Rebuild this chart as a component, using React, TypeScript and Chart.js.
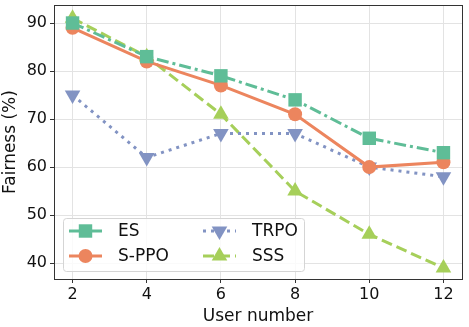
import React, { useEffect, useRef } from "react";
import { Chart, registerables } from "chart.js";

Chart.register(...registerables);

const userNumbers = [2, 4, 6, 8, 10, 12];
const esValues = [90, 83, 79, 74, 66, 63];
const sppoValues = [89, 82, 77, 71, 60, 61];
const trpoValues = [75, 62, 67, 67, 60, 58];
const sssValues = [91, 83, 71, 55, 46, 39];
const yTicks = [40, 50, 60, 70, 80, 90];
const xTicks = [2, 4, 6, 8, 10, 12];

const FONT = "'DejaVu Sans', sans-serif";

const seriesDefs = [
  { label: "ES", data: esValues, color: "#5fbd97", style: "rect", radius: 9.5, rotation: 0, dash: [12, 4, 3, 4] },
  { label: "S-PPO", data: sppoValues, color: "#ec855e", style: "circle", radius: 7, rotation: 0, dash: [] as number[] },
  { label: "TRPO", data: trpoValues, color: "#8293c3", style: "triangle", radius: 9, rotation: 180, dash: [3, 5] },
  { label: "SSS", data: sssValues, color: "#a6cf5a", style: "triangle", radius: 9, rotation: 0, dash: [11, 5] },
];

function drawMarker(ctx: CanvasRenderingContext2D, style: string, x: number, y: number, radius: number, rotation: number) {
  ctx.beginPath();
  if (style === "rect") {
    const s = Math.SQRT1_2 * radius;
    ctx.rect(x - s, y - s, 2 * s, 2 * s);
  } else if (style === "circle") {
    ctx.arc(x, y, radius, 0, Math.PI * 2);
  } else if (style === "triangle") {
    let a = (rotation * Math.PI) / 180;
    ctx.moveTo(x + Math.sin(a) * radius, y - Math.cos(a) * radius);
    a += (2 * Math.PI) / 3;
    ctx.lineTo(x + Math.sin(a) * radius, y - Math.cos(a) * radius);
    a += (2 * Math.PI) / 3;
    ctx.lineTo(x + Math.sin(a) * radius, y - Math.cos(a) * radius);
    ctx.closePath();
  }
  ctx.fill();
}

const frameAndLegend = {
  id: "frameAndLegend",
  afterDraw(chart: any) {
    const { ctx, chartArea } = chart;
    ctx.save();
    ctx.strokeStyle = "#333333";
    ctx.lineWidth = 1;
    ctx.setLineDash([]);
    ctx.strokeRect(
      Math.round(chartArea.left) + 0.5,
      Math.round(chartArea.top) + 0.5,
      Math.round(chartArea.right - chartArea.left),
      Math.round(chartArea.bottom - chartArea.top)
    );

    const bx = 63.5, by = 218.5, bw = 241, bh = 53;
    ctx.fillStyle = "rgba(255,255,255,0.8)";
    ctx.strokeStyle = "#d5d5d5";
    const r = 3;
    ctx.beginPath();
    ctx.moveTo(bx + r, by);
    ctx.lineTo(bx + bw - r, by);
    ctx.arcTo(bx + bw, by, bx + bw, by + r, r);
    ctx.lineTo(bx + bw, by + bh - r);
    ctx.arcTo(bx + bw, by + bh, bx + bw - r, by + bh, r);
    ctx.lineTo(bx + r, by + bh);
    ctx.arcTo(bx, by + bh, bx, by + bh - r, r);
    ctx.lineTo(bx, by + r);
    ctx.arcTo(bx, by, bx + r, by, r);
    ctx.closePath();
    ctx.fill();
    ctx.stroke();

    const positions = [
      { x: 69, y: 231 },
      { x: 69, y: 256 },
      { x: 203, y: 231 },
      { x: 203, y: 256 },
    ];
    chart.data.datasets.forEach((ds: any, i: number) => {
      const p = positions[i];
      ctx.strokeStyle = ds.borderColor;
      ctx.lineWidth = 3;
      ctx.setLineDash(ds.borderDash || []);
      ctx.beginPath();
      ctx.moveTo(p.x, p.y);
      ctx.lineTo(p.x + 33, p.y);
      ctx.stroke();
      ctx.setLineDash([]);
      ctx.fillStyle = ds.backgroundColor;
      drawMarker(ctx, ds.pointStyle, p.x + 16.5, p.y, ds.pointRadius, ds.pointRotation || 0);
      ctx.fillStyle = "#111111";
      ctx.font = `17px ${FONT}`;
      ctx.textBaseline = "middle";
      ctx.textAlign = "left";
      ctx.fillText(ds.label, p.x + 49, p.y + 1);
    });
    ctx.restore();
  },
};

export default function App() {
  const canvasRef = useRef<HTMLCanvasElement | null>(null);

  useEffect(() => {
    document.body.style.margin = "0";
    const canvas = canvasRef.current;
    if (!canvas) return;
    const chart = new Chart(canvas, {
      type: "line",
      data: {
        datasets: seriesDefs.map((s) => ({
          label: s.label,
          data: userNumbers.map((x, i) => ({ x, y: s.data[i] })),
          borderColor: s.color,
          backgroundColor: s.color,
          borderWidth: 3,
          borderDash: s.dash,
          pointStyle: s.style as any,
          pointRadius: s.radius,
          pointRotation: s.rotation,
          pointBorderWidth: 0,
          pointHoverRadius: s.radius,
          tension: 0,
          fill: false,
          clip: false as any,
        })),
      },
      options: {
        animation: false,
        responsive: false,
        maintainAspectRatio: false,
        layout: { autoPadding: false, padding: { top: 5, right: 7, left: 0, bottom: 0 } },
        plugins: {
          legend: { display: false },
          tooltip: { enabled: false },
        },
        scales: {
          x: {
            type: "linear",
            min: 1.5,
            max: 12.5,
            afterBuildTicks: (scale: any) => {
              scale.ticks = xTicks.map((v) => ({ value: v }));
            },
            afterFit: (scale: any) => {
              scale.height = 48;
              scale.paddingLeft = 0;
              scale.paddingRight = 0;
              scale.paddingTop = 0;
              scale.paddingBottom = 0;
            },
            grid: { color: "#e3e3e3", lineWidth: 1, drawTicks: true, tickLength: 4, tickColor: "#333333" },
            border: { display: false },
            ticks: { color: "#111111", font: { family: FONT, size: 16 }, padding: 2, maxRotation: 0 },
            title: { display: true, text: "User number", color: "#111111", font: { family: FONT, size: 17 }, padding: { top: 0, bottom: 0 } },
          },
          y: {
            type: "linear",
            min: 36.7,
            max: 93.75,
            afterBuildTicks: (scale: any) => {
              scale.ticks = yTicks.map((v) => ({ value: v }));
            },
            afterFit: (scale: any) => {
              scale.width = 54;
              scale.paddingLeft = 0;
              scale.paddingRight = 0;
              scale.paddingTop = 0;
              scale.paddingBottom = 0;
            },
            grid: { color: "#e3e3e3", lineWidth: 1, drawTicks: true, tickLength: 4, tickColor: "#333333" },
            border: { display: false },
            ticks: { color: "#111111", font: { family: FONT, size: 16 }, padding: 3 },
            title: { display: true, text: "Fairness (%)", color: "#111111", font: { family: FONT, size: 17 }, padding: { top: 0, bottom: 0 } },
          },
        },
      },
      plugins: [frameAndLegend],
    });
    return () => chart.destroy();
  }, []);

  return <canvas ref={canvasRef} width={469} height={327} style={{ display: "block" }} />;
}
